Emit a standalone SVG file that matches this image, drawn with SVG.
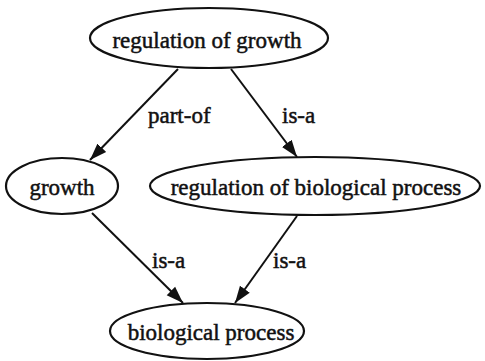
<svg xmlns="http://www.w3.org/2000/svg" width="485" height="361" viewBox="0 0 485 361">
<style>
.n ellipse{fill:#fff;stroke:#111;stroke-width:2.2}
text{font-family:"Liberation Serif","Times New Roman",serif;font-size:23px;fill:#111;stroke:#111;stroke-width:0.5}
.n text{text-anchor:middle}
.e line{stroke:#111;stroke-width:2}
</style>
<defs>
<marker id="ah" markerUnits="userSpaceOnUse" markerWidth="18" markerHeight="14" refX="17" refY="7" orient="auto">
<path d="M0,1 L17,7 L0,13 z" fill="#111"/>
</marker>
</defs>
<rect width="485" height="361" fill="#fff"/>
<g class="e" id="edges">
<line x1="178" y1="69" x2="90" y2="160" marker-end="url(#ah)"/>
<line x1="231" y1="69" x2="297" y2="157" marker-end="url(#ah)"/>
<line x1="92" y1="213" x2="183" y2="303" marker-end="url(#ah)"/>
<line x1="297" y1="216" x2="235" y2="303" marker-end="url(#ah)"/>
<text x="148" y="123">part-of</text>
<text x="282" y="123">is-a</text>
<text x="152" y="268">is-a</text>
<text x="273" y="268">is-a</text>
</g>
<g class="n" id="regulation_of_growth">
<ellipse cx="209" cy="38" rx="119" ry="30"/>
<text x="207" y="48">regulation of growth</text>
</g>
<g class="n" id="growth">
<ellipse cx="62" cy="186" rx="56" ry="28"/>
<text x="62" y="195">growth</text>
</g>
<g class="n" id="regulation_of_biological_process">
<ellipse cx="315" cy="186" rx="165" ry="29"/>
<text x="316" y="195">regulation of biological process</text>
</g>
<g class="n" id="biological_process">
<ellipse cx="207" cy="331" rx="97" ry="28"/>
<text x="211" y="340">biological process</text>
</g>
</svg>
